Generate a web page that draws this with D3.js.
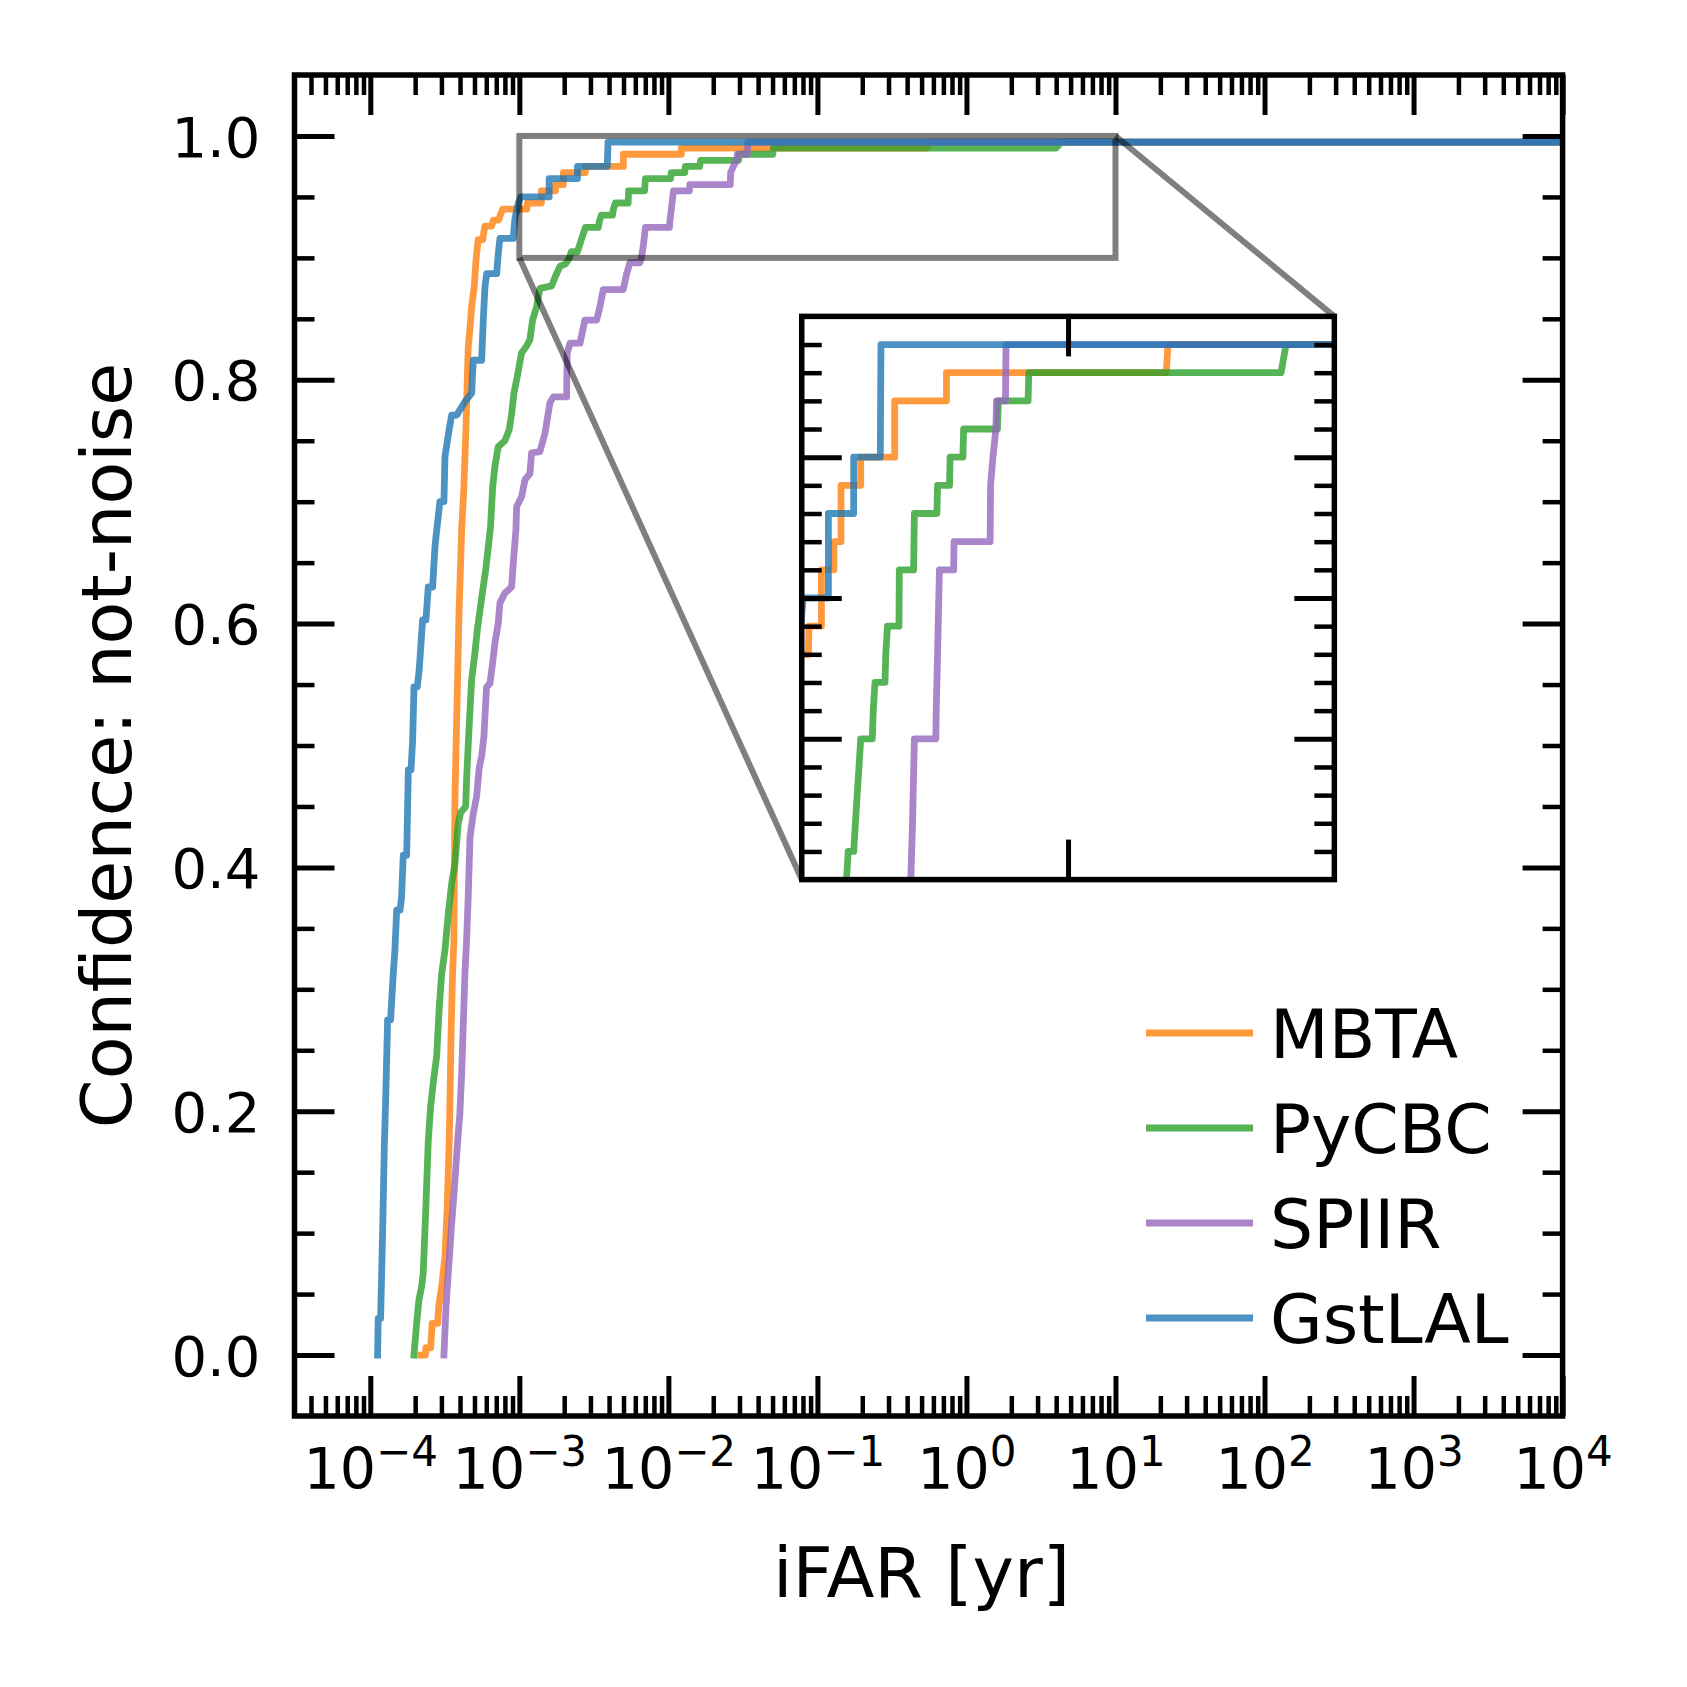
<!DOCTYPE html>
<html>
<head>
<meta charset="utf-8">
<script src="https://cdn.jsdelivr.net/npm/d3@7"></script>
<style>
  body { margin: 0; background: #fff; }
  svg text { font-family: "DejaVu Sans", sans-serif; fill: #000; }
</style>
</head>
<body>
<div id="chart"></div>
<script>
// values: log10(iFAR / yr) and confidence (not-noise)
let pipelines = ["MBTA", "PyCBC", "SPIIR", "GstLAL"];
let pipelineColors = ["#ff7f0e", "#2ca02c", "#9467bd", "#1f77b4"];

let mbtaExp = [-3.660, -3.630, -3.627, -3.595, -3.585, -3.548, -3.540, -3.521, -3.499, -3.484,
  -3.470, -3.459, -3.448, -3.439, -3.432, -3.417, -3.405, -3.387, -3.372, -3.358,
  -3.343, -3.330, -3.320, -3.303, -3.291, -3.276, -3.246, -3.231, -3.186, -3.175,
  -3.140, -3.112, -2.950, -2.946, -2.852, -2.852, -2.758, -2.758, -2.705, -2.705,
  -2.557, -2.557, -2.302, -2.302, -1.913, -1.913, -0.262, -0.250, 4.0];
let mbtaConf = [0.000, 0.000, 0.006, 0.006, 0.026, 0.026, 0.041, 0.056, 0.081, 0.122,
  0.176, 0.258, 0.313, 0.340, 0.458, 0.540, 0.608, 0.677, 0.712, 0.761,
  0.827, 0.844, 0.860, 0.876, 0.898, 0.915, 0.915, 0.926, 0.926, 0.931,
  0.931, 0.940, 0.940, 0.945, 0.945, 0.955, 0.955, 0.960, 0.960, 0.970,
  0.970, 0.975, 0.975, 0.985, 0.985, 0.990, 0.990, 0.995, 0.995];

let pycbcExp = [-3.707, -3.689, -3.674, -3.656, -3.645, -3.627, -3.611, -3.595, -3.578, -3.555,
  -3.537, -3.521, -3.499, -3.477, -3.454, -3.432, -3.410, -3.394, -3.360, -3.354,
  -3.338, -3.320, -3.298, -3.282, -3.264, -3.246, -3.226, -3.209, -3.193, -3.179,
  -3.164, -3.142, -3.097, -3.068, -3.052, -3.036, -3.010, -2.985, -2.955, -2.929,
  -2.911, -2.884, -2.862, -2.783, -2.761, -2.728, -2.690, -2.664, -2.651, -2.610,
  -2.597, -2.584, -2.570, -2.557, -2.470, -2.463, -2.450, -2.375, -2.369, -2.356,
  -2.270, -2.267, -2.160, -2.154, -1.985, -1.980, -1.890, -1.886, -1.790, -1.784,
  -1.530, -1.523, -1.300, -1.295, 0.600, 0.637, 4.0];
let pycbcConf = [0.000, 0.026, 0.045, 0.056, 0.067, 0.122, 0.176, 0.204, 0.223, 0.245,
  0.286, 0.313, 0.332, 0.362, 0.387, 0.403, 0.436, 0.445, 0.450, 0.472,
  0.513, 0.554, 0.576, 0.595, 0.611, 0.627, 0.644, 0.662, 0.680, 0.712,
  0.729, 0.745, 0.750, 0.759, 0.772, 0.789, 0.805, 0.822, 0.827, 0.833,
  0.849, 0.860, 0.875, 0.877, 0.884, 0.893, 0.895, 0.900, 0.905, 0.905,
  0.910, 0.915, 0.920, 0.925, 0.925, 0.930, 0.935, 0.935, 0.940, 0.945,
  0.945, 0.955, 0.955, 0.965, 0.965, 0.970, 0.970, 0.975, 0.975, 0.980,
  0.980, 0.985, 0.985, 0.990, 0.990, 0.995, 0.995];

let spiirExp = [-3.506, -3.492, -3.477, -3.454, -3.437, -3.421, -3.410, -3.399, -3.387, -3.376,
  -3.365, -3.354, -3.343, -3.331, -3.309, -3.287, -3.269, -3.253, -3.238, -3.220,
  -3.197, -3.179, -3.164, -3.142, -3.130, -3.097, -3.052, -3.041, -3.023, -3.018,
  -2.985, -2.962, -2.929, -2.918, -2.862, -2.828, -2.795, -2.772, -2.683, -2.679,
  -2.660, -2.593, -2.560, -2.481, -2.459, -2.437, -2.303, -2.280, -2.258, -2.191,
  -2.181, -2.168, -2.154, -1.993, -1.990, -1.980, -1.966, -1.859, -1.856, -1.585,
  -1.582, -1.564, -1.542, -1.537, -1.470, -1.466, 4.0];
let spiirConf = [0.000, 0.040, 0.067, 0.108, 0.135, 0.163, 0.182, 0.198, 0.231, 0.272,
  0.313, 0.340, 0.376, 0.425, 0.444, 0.458, 0.482, 0.491, 0.507, 0.548,
  0.551, 0.568, 0.584, 0.600, 0.617, 0.625, 0.630, 0.649, 0.677, 0.696,
  0.704, 0.718, 0.723, 0.740, 0.741, 0.756, 0.781, 0.786, 0.786, 0.822,
  0.830, 0.830, 0.849, 0.849, 0.860, 0.874, 0.874, 0.887, 0.896, 0.896,
  0.900, 0.910, 0.925, 0.925, 0.930, 0.940, 0.955, 0.955, 0.960, 0.960,
  0.970, 0.975, 0.980, 0.985, 0.985, 0.995, 0.995];

let gstlalExp = [-3.951, -3.947, -3.931, -3.917, -3.906, -3.897, -3.884, -3.864, -3.846, -3.835,
  -3.823, -3.800, -3.790, -3.779, -3.756, -3.745, -3.727, -3.716, -3.707, -3.685,
  -3.672, -3.649, -3.627, -3.611, -3.582, -3.566, -3.556, -3.533, -3.506, -3.499,
  -3.470, -3.454, -3.421, -3.365, -3.320, -3.309, -3.253, -3.242, -3.231, -3.219,
  -3.152, -3.141, -3.130, -3.041, -3.030, -3.007, -2.990, -2.800, -2.800, -2.610,
  -2.610, -2.410, -2.405, 4.0];
let gstlalConf = [0.000, 0.030, 0.030, 0.103, 0.171, 0.209, 0.275, 0.275, 0.313, 0.332,
  0.365, 0.365, 0.376, 0.410, 0.410, 0.480, 0.480, 0.504, 0.548, 0.548,
  0.562, 0.603, 0.603, 0.630, 0.630, 0.663, 0.675, 0.700, 0.700, 0.737,
  0.760, 0.771, 0.771, 0.782, 0.789, 0.816, 0.816, 0.849, 0.876, 0.887,
  0.887, 0.904, 0.916, 0.916, 0.932, 0.945, 0.950, 0.950, 0.965, 0.965,
  0.975, 0.975, 0.995, 0.995];

// axis ticks
let xTickExps = [-4, -3, -2, -1, 0, 1, 2, 3, 4];
let yTickValues = [0.0, 0.2, 0.4, 0.6, 0.8, 1.0];
let zoomBox = {x0: 1e-3, x1: 10, y0: 0.9, y1: 1.0};
let insetYTicks = [0.925, 0.95, 0.975];
let insetXTicks = [0.1];

let w = 1687, h = 1687;
let axLeft = 294.5, axRight = 1562.6, axTop = 75, axBottom = 1416;
let majorLen = 40, minorLen = 20;
let lineW = 6.8;

let svg = d3.select("#chart").append("svg")
  .attr("width", w)
  .attr("height", h);

let xScale = d3.scaleLog().domain([3.1e-5, 1e4]).range([axLeft, axRight]);
let yScale = d3.scaleLinear().domain([-0.05, 1.05]).range([axBottom, axTop]);

let xMajor = xTickExps.map(e => Math.pow(10, e));
let xMinor = [];
for (let e = -5; e <= 3; e++) {
  for (let m = 2; m <= 9; m++) {
    let v = m * Math.pow(10, e);
    if (v > 3.1e-5 && v < 1e4) xMinor.push(v);
  }
}
let yMinor = d3.range(0, 21).map(i => i * 0.05).filter(v => Math.abs(v * 5 - Math.round(v * 5)) > 1e-6);

function styleTicks(g, width) {
  g.select(".domain").remove();
  g.selectAll(".tick line").attr("stroke", "#000").attr("stroke-width", width);
}

// series
let series = [
  {name: pipelines[0], color: pipelineColors[0], exp: mbtaExp, conf: mbtaConf},
  {name: pipelines[1], color: pipelineColors[1], exp: pycbcExp, conf: pycbcConf},
  {name: pipelines[2], color: pipelineColors[2], exp: spiirExp, conf: spiirConf},
  {name: pipelines[3], color: pipelineColors[3], exp: gstlalExp, conf: gstlalConf}
];
series.forEach(s => {
  s.points = s.exp.map((e, i) => [Math.pow(10, e), s.conf[i]]);
});

let defs = svg.append("defs");
defs.append("clipPath").attr("id", "mainClip").append("rect")
  .attr("x", axLeft).attr("y", axTop).attr("width", axRight - axLeft).attr("height", axBottom - axTop);

let mainLine = d3.line().x(d => xScale(d[0])).y(d => yScale(d[1]));

svg.append("g").attr("clip-path", "url(#mainClip)")
  .selectAll("path").data(series).enter()
  .append("path")
  .attr("d", d => mainLine(d.points))
  .attr("fill", "none")
  .attr("stroke", d => d.color)
  .attr("stroke-opacity", 0.8)
  .attr("stroke-width", lineW)
  .attr("stroke-linecap", "square")
  .attr("stroke-linejoin", "round");

// main ticks (inside, all four sides)
let xb = svg.append("g").attr("transform", `translate(0,${axBottom})`)
  .call(d3.axisBottom(xScale).tickValues(xMajor).tickSize(-majorLen).tickFormat(() => ""));
styleTicks(xb, 5);
xb.attr("font-size", 57).attr("font-family", "DejaVu Sans");
xb.selectAll(".tick text").each(function(d) {
  let e = Math.round(Math.log10(d));
  let t = d3.select(this).text(null).attr("y", 73).attr("dy", null).attr("fill", "#000");
  t.append("tspan").text("10");
  t.append("tspan").attr("font-size", 42).attr("dy", -23).text(e < 0 ? "\u2212" + (-e) : String(e));
});
styleTicks(svg.append("g").attr("transform", `translate(0,${axBottom})`)
  .call(d3.axisBottom(xScale).tickValues(xMinor).tickSize(-minorLen).tickFormat(() => "")), 4.5);
styleTicks(svg.append("g").attr("transform", `translate(0,${axTop})`)
  .call(d3.axisTop(xScale).tickValues(xMajor).tickSize(-majorLen).tickFormat(() => "")), 5);
styleTicks(svg.append("g").attr("transform", `translate(0,${axTop})`)
  .call(d3.axisTop(xScale).tickValues(xMinor).tickSize(-minorLen).tickFormat(() => "")), 4.5);

let yl = svg.append("g").attr("transform", `translate(${axLeft},0)`)
  .call(d3.axisLeft(yScale).tickValues(yTickValues).tickSize(-majorLen).tickPadding(34).tickFormat(d3.format(".1f")));
styleTicks(yl, 5);
yl.attr("font-size", 56).attr("font-family", "DejaVu Sans");
yl.selectAll(".tick text").attr("fill", "#000").attr("dy", "0.36em");
styleTicks(svg.append("g").attr("transform", `translate(${axLeft},0)`)
  .call(d3.axisLeft(yScale).tickValues(yMinor).tickSize(-minorLen).tickFormat(() => "")), 4.5);
styleTicks(svg.append("g").attr("transform", `translate(${axRight},0)`)
  .call(d3.axisRight(yScale).tickValues(yTickValues).tickSize(-majorLen).tickFormat(() => "")), 5);
styleTicks(svg.append("g").attr("transform", `translate(${axRight},0)`)
  .call(d3.axisRight(yScale).tickValues(yMinor).tickSize(-minorLen).tickFormat(() => "")), 4.5);

// zoom rectangle and connectors
let grey = {stroke: "#000", op: 0.5, w: 6};
svg.append("rect")
  .attr("x", xScale(zoomBox.x0))
  .attr("y", yScale(zoomBox.y1))
  .attr("width", xScale(zoomBox.x1) - xScale(zoomBox.x0))
  .attr("height", yScale(zoomBox.y0) - yScale(zoomBox.y1))
  .attr("fill", "none")
  .attr("stroke", grey.stroke).attr("stroke-opacity", grey.op).attr("stroke-width", grey.w);

// inset axes (axes fraction 0.40, 0.40, 0.42, 0.42)
let iLeft = axLeft + 0.40 * (axRight - axLeft);
let iRight = iLeft + 0.42 * (axRight - axLeft);
let iBottom = axBottom - 0.40 * (axBottom - axTop);
let iTop = axBottom - 0.82 * (axBottom - axTop);

let ixScale = d3.scaleLog().domain([zoomBox.x0, zoomBox.x1]).range([iLeft, iRight]);
let iyScale = d3.scaleLinear().domain([zoomBox.y0, zoomBox.y1]).range([iBottom, iTop]);

let connectors = [
  [[xScale(zoomBox.x1), yScale(zoomBox.y1)], [ixScale(zoomBox.x1), iyScale(zoomBox.y1)]],
  [[xScale(zoomBox.x0), yScale(zoomBox.y0)], [ixScale(zoomBox.x0), iyScale(zoomBox.y0)]]
];
svg.selectAll(".connector").data(connectors).enter()
  .append("line")
  .attr("class", "connector")
  .attr("x1", d => d[0][0]).attr("y1", d => d[0][1])
  .attr("x2", d => d[1][0]).attr("y2", d => d[1][1])
  .attr("stroke", grey.stroke).attr("stroke-opacity", grey.op).attr("stroke-width", grey.w);

svg.append("rect")
  .attr("x", iLeft).attr("y", iTop)
  .attr("width", iRight - iLeft).attr("height", iBottom - iTop)
  .attr("fill", "#fff");

defs.append("clipPath").attr("id", "insetClip").append("rect")
  .attr("x", iLeft).attr("y", iTop).attr("width", iRight - iLeft).attr("height", iBottom - iTop);

let insetLine = d3.line().x(d => ixScale(d[0])).y(d => iyScale(d[1]));
svg.append("g").attr("clip-path", "url(#insetClip)")
  .selectAll("path").data(series).enter()
  .append("path")
  .attr("d", d => insetLine(d.points))
  .attr("fill", "none")
  .attr("stroke", d => d.color)
  .attr("stroke-opacity", 0.8)
  .attr("stroke-width", lineW)
  .attr("stroke-linecap", "square")
  .attr("stroke-linejoin", "round");

let iyMinor = d3.range(1, 20).map(i => 0.9 + i * 0.005).filter(v => Math.abs(v * 40 - Math.round(v * 40)) > 1e-6);

styleTicks(svg.append("g").attr("transform", `translate(${iLeft},0)`)
  .call(d3.axisLeft(iyScale).tickValues(insetYTicks).tickSize(-majorLen).tickFormat(() => "")), 5);
styleTicks(svg.append("g").attr("transform", `translate(${iLeft},0)`)
  .call(d3.axisLeft(iyScale).tickValues(iyMinor).tickSize(-minorLen).tickFormat(() => "")), 4.5);
styleTicks(svg.append("g").attr("transform", `translate(${iRight},0)`)
  .call(d3.axisRight(iyScale).tickValues(insetYTicks).tickSize(-majorLen).tickFormat(() => "")), 5);
styleTicks(svg.append("g").attr("transform", `translate(${iRight},0)`)
  .call(d3.axisRight(iyScale).tickValues(iyMinor).tickSize(-minorLen).tickFormat(() => "")), 4.5);
styleTicks(svg.append("g").attr("transform", `translate(0,${iBottom})`)
  .call(d3.axisBottom(ixScale).tickValues(insetXTicks).tickSize(-majorLen).tickFormat(() => "")), 5);
styleTicks(svg.append("g").attr("transform", `translate(0,${iTop})`)
  .call(d3.axisTop(ixScale).tickValues(insetXTicks).tickSize(-majorLen).tickFormat(() => "")), 5);

svg.append("rect")
  .attr("x", iLeft).attr("y", iTop)
  .attr("width", iRight - iLeft).attr("height", iBottom - iTop)
  .attr("fill", "none").attr("stroke", "#000").attr("stroke-width", 5.5);

// main frame
svg.append("rect")
  .attr("x", axLeft).attr("y", axTop)
  .attr("width", axRight - axLeft).attr("height", axBottom - axTop)
  .attr("fill", "none").attr("stroke", "#000").attr("stroke-width", 5.5);

// axis labels
svg.append("text")
  .text("iFAR [yr]")
  .attr("x", (axLeft + axRight) / 2 - 7)
  .attr("y", 1597)
  .attr("text-anchor", "middle")
  .style("font-size", "70px");

svg.append("text")
  .text("Confidence: not-noise")
  .attr("transform", `translate(131,${(axTop + axBottom) / 2}) rotate(-90)`)
  .attr("text-anchor", "middle")
  .style("font-size", "70px");

// legend
let legend = svg.append("g").attr("transform", "translate(1146,1033)");
let rows = legend.selectAll("g").data(series).enter()
  .append("g")
  .attr("transform", (d, i) => `translate(0,${i * 95})`);
rows.append("line")
  .attr("x1", 0).attr("x2", 107)
  .attr("stroke", d => d.color)
  .attr("stroke-opacity", 0.8)
  .attr("stroke-width", lineW);
rows.append("text")
  .text(d => d.name)
  .attr("x", 124)
  .attr("y", 24.5)
  .style("font-size", "68px");
</script>
</body>
</html>
